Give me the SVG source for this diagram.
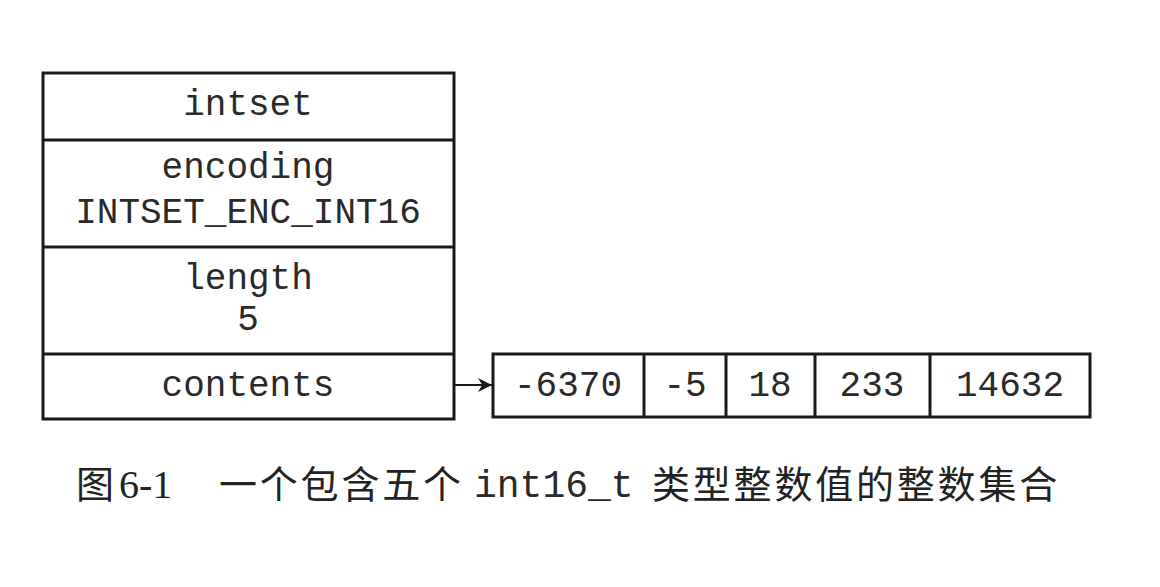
<svg xmlns="http://www.w3.org/2000/svg" width="1160" height="587" viewBox="0 0 1160 587">
<defs>
<style>
.box{fill:#fff;stroke:#1a1a1a;stroke-width:3}
.mono{font-family:"Liberation Mono","DejaVu Sans Mono",monospace;font-size:36px;fill:#2a2a2a;text-anchor:middle}
.cjk{font-family:"Noto Sans CJK SC","Noto Sans CJK JP",sans-serif;font-size:38px;fill:#222;letter-spacing:2.8px}
.ser{font-family:"Liberation Serif",serif;font-size:40px;fill:#222}
.conn{stroke:#1a1a1a;stroke-width:2;fill:none}
</style>
<marker id="arr" viewBox="0 0 10 10" refX="10" refY="5" markerWidth="7" markerHeight="7" markerUnits="strokeWidth" orient="auto">
<path d="M0,0 L10,5 L0,10 L3,5 z" fill="#1a1a1a"/>
</marker>
</defs>
<rect width="1160" height="587" fill="#fff"/>
<g id="intset">
<rect class="box" x="43" y="73" width="411" height="346"/>
<line class="box" x1="43" y1="140" x2="454" y2="140"/>
<line class="box" x1="43" y1="247" x2="454" y2="247"/>
<line class="box" x1="43" y1="354" x2="454" y2="354"/>
<text class="mono" x="248" y="115">intset</text>
<text class="mono" x="248" y="178">encoding</text>
<text class="mono" x="248" y="223">INTSET_ENC_INT16</text>
<text class="mono" x="248" y="289">length</text>
<text class="mono" x="248" y="330">5</text>
<text class="mono" x="248" y="396">contents</text>
</g>
<g id="array">
<rect class="box" x="493" y="354" width="597" height="63"/>
<line class="box" x1="644" y1="354" x2="644" y2="417"/>
<line class="box" x1="726" y1="354" x2="726" y2="417"/>
<line class="box" x1="815" y1="354" x2="815" y2="417"/>
<line class="box" x1="930" y1="354" x2="930" y2="417"/>
<text class="mono" x="568" y="396">-6370</text>
<text class="mono" x="685" y="396">-5</text>
<text class="mono" x="770" y="396">18</text>
<text class="mono" x="872" y="396">233</text>
<text class="mono" x="1010" y="396">14632</text>
</g>
<g id="connectors">
<line class="conn" x1="454" y1="385" x2="492" y2="385" marker-end="url(#arr)"/>
</g>
<g id="caption">
<text class="cjk" x="76" y="498">图</text>
<text class="ser" x="119" y="498">6-1</text>
<text class="cjk" x="219" y="498">一个包含五个</text>
<text class="mono" x="474" y="497" style="text-anchor:start;font-size:38px">int16_t</text>
<text class="cjk" x="652" y="498">类型整数值的整数集合</text>
</g>
</svg>
